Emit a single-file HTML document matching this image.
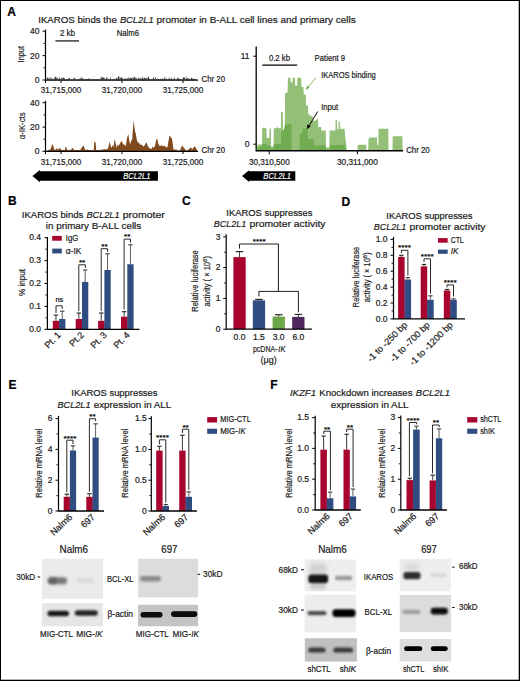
<!DOCTYPE html>
<html><head><meta charset="utf-8"><style>
html,body{margin:0;padding:0;background:#fff;}
body{width:520px;height:681px;overflow:hidden;}
svg{display:block;font-family:"Liberation Sans", sans-serif;}
text{stroke-width:0.2px;}
</style></head><body>
<svg width="520" height="681" viewBox="0 0 520 681" fill="#1a1a1a" stroke="none">
<rect x="0.00" y="0.00" width="520.00" height="1.00" fill="#000"/>
<rect x="0.00" y="0.00" width="1.00" height="681.00" fill="#000"/>
<rect x="519.00" y="0.00" width="1.00" height="681.00" fill="#000"/>
<rect x="0.00" y="680.00" width="520.00" height="1.00" fill="#000"/>
<rect x="518.00" y="0.00" width="1.00" height="681.00" fill="#000" opacity="0.3"/>
<rect x="0.00" y="679.00" width="520.00" height="1.00" fill="#000" opacity="0.3"/>
<text x="7.20" y="15.60" font-size="12" font-weight="bold" fill="#000" stroke="#000">A</text>
<text x="8.00" y="204.80" font-size="12" font-weight="bold" fill="#000" stroke="#000">B</text>
<text x="182.00" y="205.00" font-size="12" font-weight="bold" fill="#000" stroke="#000">C</text>
<text x="341.60" y="205.50" font-size="12" font-weight="bold" fill="#000" stroke="#000">D</text>
<text x="8.40" y="389.00" font-size="12" font-weight="bold" fill="#000" stroke="#000">E</text>
<text x="270.20" y="389.20" font-size="12" font-weight="bold" fill="#000" stroke="#000">F</text>
<text x="38.20" y="23.10" font-size="9.6" textLength="78.60" lengthAdjust="spacingAndGlyphs" stroke="#1a1a1a">IKAROS binds the</text>
<text x="119.90" y="23.10" font-size="9.6" textLength="33.70" lengthAdjust="spacingAndGlyphs" font-style="italic" stroke="#1a1a1a">BCL2L1</text>
<text x="156.60" y="23.10" font-size="9.6" textLength="199.10" lengthAdjust="spacingAndGlyphs" stroke="#1a1a1a">promoter in B-ALL cell lines and primary cells</text>
<line x1="45.50" y1="29.50" x2="45.50" y2="80.60" stroke="#000" stroke-width="1.2"/>
<line x1="42.50" y1="31.20" x2="45.50" y2="31.20" stroke="#000" stroke-width="1"/>
<line x1="42.50" y1="55.60" x2="45.50" y2="55.60" stroke="#000" stroke-width="1"/>
<line x1="42.50" y1="80.00" x2="45.50" y2="80.00" stroke="#000" stroke-width="1"/>
<line x1="43.50" y1="43.40" x2="45.50" y2="43.40" stroke="#000" stroke-width="0.9"/>
<line x1="43.50" y1="67.80" x2="45.50" y2="67.80" stroke="#000" stroke-width="0.9"/>
<line x1="45.50" y1="80.20" x2="198.00" y2="80.20" stroke="#000" stroke-width="1.3"/>
<line x1="61.00" y1="80.20" x2="61.00" y2="83.00" stroke="#000" stroke-width="1"/>
<line x1="122.00" y1="80.20" x2="122.00" y2="83.00" stroke="#000" stroke-width="1"/>
<line x1="183.00" y1="80.20" x2="183.00" y2="83.00" stroke="#000" stroke-width="1"/>
<text x="39.40" y="34.30" font-size="8.5" text-anchor="end" stroke="#1a1a1a">40</text>
<text x="39.40" y="58.70" font-size="8.5" text-anchor="end" stroke="#1a1a1a">20</text>
<text x="39.40" y="83.10" font-size="8.5" text-anchor="end" stroke="#1a1a1a">0</text>
<g transform="translate(24.40,54.20) rotate(-90)" stroke="#1a1a1a">
<text x="-8.20" y="0.00" font-size="9.3" textLength="16.40" lengthAdjust="spacingAndGlyphs">Input</text>
</g>
<text x="61.00" y="93.20" font-size="8.5" text-anchor="middle" textLength="40.30" lengthAdjust="spacingAndGlyphs" stroke="#1a1a1a">31,715,000</text>
<text x="122.00" y="93.20" font-size="8.5" text-anchor="middle" textLength="40.30" lengthAdjust="spacingAndGlyphs" stroke="#1a1a1a">31,720,000</text>
<text x="183.00" y="93.20" font-size="8.5" text-anchor="middle" textLength="40.30" lengthAdjust="spacingAndGlyphs" stroke="#1a1a1a">31,725,000</text>
<text x="201.50" y="82.00" font-size="8.5" textLength="23.50" lengthAdjust="spacingAndGlyphs" stroke="#1a1a1a">Chr 20</text>
<line x1="55.40" y1="40.90" x2="79.00" y2="40.90" stroke="#4a4a4a" stroke-width="1.6"/>
<text x="59.90" y="35.90" font-size="8.8" textLength="15.00" lengthAdjust="spacingAndGlyphs" stroke="#1a1a1a">2 kb</text>
<text x="116.70" y="36.20" font-size="8.7" textLength="22.30" lengthAdjust="spacingAndGlyphs" stroke="#1a1a1a">Nalm6</text>
<path d="M46.5,80.4 L46.50,79.41 L47.05,77.21 L47.60,77.28 L48.15,79.67 L48.70,77.50 L49.25,78.02 L49.80,79.14 L50.35,79.18 L50.90,76.37 L51.45,78.29 L52.00,79.42 L52.55,79.54 L53.10,79.12 L53.65,78.45 L54.20,79.51 L54.75,77.08 L55.30,76.53 L55.85,77.11 L56.40,79.23 L56.95,76.05 L57.50,79.59 L58.05,77.33 L58.60,79.66 L59.15,79.01 L59.70,76.79 L60.25,79.17 L60.80,79.29 L61.35,78.85 L61.90,76.78 L62.45,79.12 L63.00,77.60 L63.55,77.40 L64.10,78.45 L64.65,77.96 L65.20,79.35 L65.75,79.63 L66.30,79.21 L66.85,78.96 L67.40,79.45 L67.95,79.38 L68.50,78.14 L69.05,77.34 L69.60,78.59 L70.15,79.32 L70.70,79.19 L71.25,79.08 L71.80,79.14 L72.35,79.65 L72.90,79.00 L73.45,78.98 L74.00,76.95 L74.55,78.06 L75.10,79.55 L75.65,78.21 L76.20,79.61 L76.75,79.68 L77.30,79.15 L77.85,79.47 L78.40,79.37 L78.95,78.94 L79.50,79.28 L80.05,77.71 L80.60,79.46 L81.15,76.13 L81.70,79.22 L82.25,77.23 L82.80,78.82 L83.35,79.07 L83.90,79.37 L84.45,79.01 L85.00,79.00 L85.55,79.50 L86.10,78.81 L86.65,78.97 L87.20,79.03 L87.75,79.23 L88.30,77.87 L88.85,79.47 L89.40,78.84 L89.95,78.86 L90.50,78.84 L91.05,79.50 L91.60,79.52 L92.15,79.14 L92.70,78.94 L93.25,79.11 L93.80,79.62 L94.35,78.88 L94.90,79.02 L95.45,79.54 L96.00,79.40 L96.55,78.83 L97.10,79.34 L97.65,79.05 L98.20,79.59 L98.75,78.89 L99.30,79.57 L99.85,78.82 L100.40,79.38 L100.95,76.08 L101.50,79.12 L102.05,76.33 L102.60,77.95 L103.15,77.08 L103.70,78.26 L104.25,77.41 L104.80,79.17 L105.35,79.32 L105.90,79.25 L106.45,77.46 L107.00,76.52 L107.55,79.54 L108.10,79.05 L108.65,79.41 L109.20,79.20 L109.75,79.60 L110.30,76.59 L110.85,79.24 L111.40,79.02 L111.95,79.30 L112.50,79.25 L113.05,79.08 L113.60,79.22 L114.15,78.85 L114.70,78.91 L115.25,79.47 L115.80,78.85 L116.35,77.45 L116.90,78.41 L117.45,79.10 L118.00,76.74 L118.55,76.30 L119.10,76.12 L119.65,79.34 L120.20,78.81 L120.75,77.26 L121.30,77.77 L121.85,77.16 L122.40,77.74 L122.95,79.14 L123.50,79.64 L124.05,78.99 L124.60,78.50 L125.15,78.26 L125.70,79.32 L126.25,78.21 L126.80,78.87 L127.35,78.45 L127.90,78.41 L128.45,78.86 L129.00,76.37 L129.55,79.64 L130.10,77.16 L130.65,78.26 L131.20,78.32 L131.75,78.08 L132.30,76.63 L132.85,79.44 L133.40,78.55 L133.95,76.69 L134.50,77.37 L135.05,76.47 L135.60,79.31 L136.15,77.28 L136.70,79.08 L137.25,79.39 L137.80,79.06 L138.35,78.46 L138.90,76.67 L139.45,78.38 L140.00,78.94 L140.55,77.97 L141.10,79.44 L141.65,77.92 L142.20,78.83 L142.75,76.09 L143.30,78.60 L143.85,79.36 L144.40,77.29 L144.95,78.37 L145.50,78.54 L146.05,77.08 L146.60,79.22 L147.15,79.11 L147.70,77.75 L148.25,76.72 L148.80,76.43 L149.35,78.90 L149.90,79.04 L150.45,79.57 L151.00,79.25 L151.55,78.98 L152.10,79.17 L152.65,79.09 L153.20,78.25 L153.75,76.43 L154.30,79.20 L154.85,79.14 L155.40,76.53 L155.95,79.03 L156.50,79.22 L157.05,79.64 L157.60,77.91 L158.15,79.04 L158.70,79.03 L159.25,79.26 L159.80,79.27 L160.35,79.01 L160.90,78.22 L161.45,79.47 L162.00,79.43 L162.55,77.90 L163.10,79.10 L163.65,79.09 L164.20,79.24 L164.75,76.28 L165.30,79.52 L165.85,77.41 L166.40,78.96 L166.95,79.30 L167.50,79.51 L168.05,79.51 L168.60,79.57 L169.15,76.47 L169.70,79.24 L170.25,79.07 L170.80,78.89 L171.35,77.32 L171.90,79.29 L172.45,79.57 L173.00,79.42 L173.55,79.70 L174.10,76.19 L174.65,79.06 L175.20,79.44 L175.75,79.35 L176.30,79.17 L176.85,79.31 L177.40,76.43 L177.95,79.44 L178.50,77.27 L179.05,79.53 L179.60,78.84 L180.15,78.97 L180.70,78.88 L181.25,79.21 L181.80,79.66 L182.35,79.29 L182.90,78.47 L183.45,77.37 L184.00,76.68 L184.55,76.89 L185.10,79.43 L185.65,78.18 L186.20,79.51 L186.75,76.24 L187.30,78.80 L187.85,78.36 L188.40,77.98 L188.95,79.47 L189.50,78.90 L190.05,79.33 L190.60,79.23 L191.15,77.88 L191.70,77.29 L192.25,79.13 L192.80,77.95 L193.35,79.34 L193.90,78.84 L194.45,78.52 L195.00,79.06 L195.55,79.27 L196.10,79.70 L196.65,78.87 L197,80.4 Z" fill="#3a3a3a" stroke="none" stroke-width="1"/>
<line x1="45.50" y1="100.80" x2="45.50" y2="151.60" stroke="#000" stroke-width="1.2"/>
<line x1="42.50" y1="102.70" x2="45.50" y2="102.70" stroke="#000" stroke-width="1"/>
<line x1="42.50" y1="127.10" x2="45.50" y2="127.10" stroke="#000" stroke-width="1"/>
<line x1="42.50" y1="151.30" x2="45.50" y2="151.30" stroke="#000" stroke-width="1"/>
<line x1="43.50" y1="114.90" x2="45.50" y2="114.90" stroke="#000" stroke-width="0.9"/>
<line x1="43.50" y1="139.20" x2="45.50" y2="139.20" stroke="#000" stroke-width="0.9"/>
<text x="39.40" y="105.80" font-size="8.5" text-anchor="end" stroke="#1a1a1a">40</text>
<text x="39.40" y="130.20" font-size="8.5" text-anchor="end" stroke="#1a1a1a">20</text>
<text x="39.40" y="154.40" font-size="8.5" text-anchor="end" stroke="#1a1a1a">0</text>
<g transform="translate(24.80,125.90) rotate(-90)" stroke="#1a1a1a">
<text x="-13.40" y="0.00" font-size="9.3" textLength="26.80" lengthAdjust="spacingAndGlyphs">α-IK-cts</text>
</g>
<line x1="45.50" y1="151.30" x2="45.50" y2="154.20" stroke="#000" stroke-width="1"/>
<line x1="45.50" y1="80.20" x2="45.50" y2="83.00" stroke="#000" stroke-width="1"/>
<text x="61.00" y="165.30" font-size="8.5" text-anchor="middle" textLength="40.30" lengthAdjust="spacingAndGlyphs" stroke="#1a1a1a">31,715,000</text>
<text x="122.00" y="165.30" font-size="8.5" text-anchor="middle" textLength="40.30" lengthAdjust="spacingAndGlyphs" stroke="#1a1a1a">31,720,000</text>
<text x="183.00" y="165.30" font-size="8.5" text-anchor="middle" textLength="40.30" lengthAdjust="spacingAndGlyphs" stroke="#1a1a1a">31,725,000</text>
<text x="201.50" y="153.40" font-size="8.5" textLength="23.50" lengthAdjust="spacingAndGlyphs" stroke="#1a1a1a">Chr 20</text>
<path d="M46.5,151.3 L46.5,151.0 L49.0,150.0 L50.7,149.0 L52.2,144.3 L53.2,145.5 L54.3,150.0 L56.4,149.0 L57.1,147.2 L57.8,150.0 L58.7,149.0 L60.0,148.0 L61.6,150.0 L64.7,150.0 L65.9,146.3 L67.2,150.0 L70.8,150.0 L72.4,147.7 L74.3,150.0 L80.2,150.0 L82.5,146.5 L83.6,145.8 L85.3,150.0 L87.0,149.5 L88.0,150.0 L93.8,150.0 L94.3,141.7 L95.6,142.3 L96.2,150.0 L100.0,150.0 L104.0,149.3 L107.5,149.3 L108.4,147.0 L109.5,141.5 L110.5,145.0 L111.5,148.0 L112.6,145.0 L113.5,147.0 L114.6,139.0 L115.6,143.0 L116.5,148.0 L117.5,144.5 L118.5,146.0 L119.5,144.0 L121.0,142.0 L122.0,140.8 L123.0,145.0 L124.0,143.5 L125.0,146.3 L126.0,145.0 L127.0,138.0 L128.3,133.9 L129.2,140.0 L130.0,144.6 L131.2,141.0 L132.2,139.4 L133.0,128.0 L133.7,120.0 L134.4,127.0 L135.2,132.0 L136.0,134.5 L137.0,141.0 L138.2,142.5 L139.5,143.5 L140.5,145.0 L141.8,144.6 L143.0,146.5 L144.2,146.0 L145.3,144.0 L146.4,142.0 L147.6,145.5 L148.5,147.3 L150.0,148.5 L151.5,149.0 L152.5,146.5 L153.5,148.0 L155.0,146.0 L156.4,139.0 L157.4,139.5 L158.4,144.0 L160.0,146.5 L161.5,145.0 L163.0,146.5 L164.5,145.5 L166.0,147.5 L167.5,147.0 L168.5,141.0 L169.5,135.6 L170.5,137.0 L171.4,137.7 L172.3,140.3 L173.5,149.5 L176.0,149.5 L178.0,150.5 L180.0,150.5 L181.4,147.0 L182.2,145.5 L183.2,147.0 L184.5,148.5 L186.0,150.5 L188.0,150.0 L190.0,148.0 L191.0,147.2 L192.0,149.5 L193.6,147.5 L194.8,146.3 L196.1,148.5 L197.3,151.0 L197.3,151.3 Z" fill="#7f4a1e" stroke="none" stroke-width="1"/>
<line x1="45.50" y1="151.30" x2="198.00" y2="151.30" stroke="#000" stroke-width="1.3"/>
<line x1="61.00" y1="151.30" x2="61.00" y2="154.00" stroke="#000" stroke-width="1"/>
<line x1="122.00" y1="151.30" x2="122.00" y2="154.00" stroke="#000" stroke-width="1"/>
<line x1="183.00" y1="151.30" x2="183.00" y2="154.00" stroke="#000" stroke-width="1"/>
<path d="M32.4,176.1 L39.9,169.9 L39.9,171.3 L157.9,171.3 L157.9,180.8 L39.9,180.8 L39.9,182.2 Z" fill="#000" stroke="none" stroke-width="1"/>
<text x="123.30" y="179.00" font-size="8.5" textLength="27.00" lengthAdjust="spacingAndGlyphs" font-style="italic" fill="#fff" stroke="#fff">BCL2L1</text>
<path d="M242.0,176.0 L249.1,170.2 L249.1,171.2 L295.3,171.2 L295.3,180.7 L249.1,180.7 L249.1,181.9 Z" fill="#000" stroke="none" stroke-width="1"/>
<text x="263.30" y="178.90" font-size="8.5" textLength="27.60" lengthAdjust="spacingAndGlyphs" font-style="italic" fill="#fff" stroke="#fff">BCL2L1</text>
<path d="M257.3,150.5 L257.6,144.5 L262.0,144.5 L262.2,128.0 L264.0,127.5 L266.5,128.5 L266.7,137.9 L269.3,137.9 L269.5,128.8 L270.9,128.8 L271.0,146.5 L273.6,146.5 L273.8,128.5 L276.0,128.0 L277.5,127.3 L279.0,128.3 L280.9,128.3 L281.1,112.0 L282.8,112.0 L283.0,130.0 L284.8,130.0 L285.0,93.0 L287.5,93.0 L288.0,77.7 L290.4,77.7 L290.6,82.3 L292.5,82.3 L292.7,77.7 L295.0,77.7 L295.2,85.4 L297.2,85.4 L297.4,77.7 L301.2,77.7 L301.4,86.9 L303.5,86.9 L303.7,94.6 L305.8,94.6 L306.0,105.4 L308.0,105.4 L308.2,114.6 L310.4,114.6 L310.6,116.2 L312.7,116.2 L312.9,120.8 L315.8,120.8 L316.0,119.2 L318.0,119.2 L318.2,126.9 L321.2,126.9 L321.4,130.5 L325.8,130.5 L326.0,147.5 L329.4,147.5 L329.6,130.6 L335.4,130.6 L335.6,120.0 L336.9,120.0 L337.1,129.2 L338.5,129.2 L338.7,121.5 L340.0,121.5 L340.2,128.8 L344.6,128.8 L345.4,138.5 L346.2,145.0 L346.8,150.5 L357.5,150.5 L357.7,144.7 L366.2,144.7 L366.4,150.5 L368.3,150.5 L368.5,139.0 L369.5,137.6 L377.0,137.6 L377.2,145.0 L378.4,145.0 L378.6,128.8 L388.3,128.8 L388.5,150.5 L392.5,150.5 L392.7,136.2 L402.4,136.2 L402.6,150.5 Z" fill="#93c076" stroke="none" stroke-width="1" filter="url(#gblur)"/>
<path d="M257.3,150.5 L257.5,147.0 L262.0,147.0 L262.2,144.0 L266.5,144.0 L266.7,145.5 L270.4,145.5 L270.6,148.5 L273.6,148.5 L273.8,144.0 L281.0,144.0 L281.2,131.5 L283.5,130.6 L285.2,124.5 L291.5,124.2 L291.7,150.5 L299.6,150.5 L299.8,134.0 L302.0,133.5 L303.2,128.5 L307.5,128.0 L307.7,139.0 L313.5,139.0 L313.7,145.5 L326.0,145.5 L326.2,150.5 L329.6,150.5 L329.8,145.0 L345.0,145.0 L346.0,150.5 Z" fill="#6fac50" stroke="none" stroke-width="1" filter="url(#gblur)"/>
<line x1="256.20" y1="46.50" x2="256.20" y2="151.50" stroke="#000" stroke-width="1.3"/>
<line x1="253.30" y1="56.20" x2="256.20" y2="56.20" stroke="#000" stroke-width="1"/>
<line x1="253.30" y1="144.20" x2="256.20" y2="144.20" stroke="#000" stroke-width="1"/>
<line x1="256.20" y1="150.80" x2="403.10" y2="150.80" stroke="#000" stroke-width="1.4"/>
<line x1="269.20" y1="150.80" x2="269.20" y2="154.30" stroke="#000" stroke-width="1"/>
<line x1="357.40" y1="150.80" x2="357.40" y2="154.30" stroke="#000" stroke-width="1"/>
<text x="249.60" y="59.30" font-size="8.5" text-anchor="end" stroke="#1a1a1a">11</text>
<text x="249.60" y="147.30" font-size="8.5" text-anchor="end" stroke="#1a1a1a">0</text>
<text x="269.30" y="164.70" font-size="8.5" text-anchor="middle" textLength="40.80" lengthAdjust="spacingAndGlyphs" stroke="#1a1a1a">30,310,500</text>
<text x="357.40" y="164.70" font-size="8.5" text-anchor="middle" textLength="40.80" lengthAdjust="spacingAndGlyphs" stroke="#1a1a1a">30,311,000</text>
<text x="406.20" y="152.80" font-size="8.5" textLength="23.50" lengthAdjust="spacingAndGlyphs" stroke="#1a1a1a">Chr 20</text>
<line x1="262.30" y1="65.10" x2="297.20" y2="65.10" stroke="#000" stroke-width="1.2"/>
<text x="268.90" y="61.00" font-size="8.5" textLength="21.10" lengthAdjust="spacingAndGlyphs" stroke="#1a1a1a">0.2 kb</text>
<text x="314.60" y="61.00" font-size="8.5" textLength="30.50" lengthAdjust="spacingAndGlyphs" stroke="#1a1a1a">Patient 9</text>
<text x="321.20" y="78.40" font-size="8.5" textLength="54.60" lengthAdjust="spacingAndGlyphs" stroke="#1a1a1a">IKAROS binding</text>
<text x="321.20" y="109.80" font-size="8.5" textLength="17.00" lengthAdjust="spacingAndGlyphs" stroke="#1a1a1a">Input</text>
<line x1="315.80" y1="77.70" x2="307.80" y2="87.80" stroke="#6fac50" stroke-width="0.9"/>
<path d="M306.0,89.8 L306.9,85.6 L309.6,87.8 Z" fill="#6fac50" stroke="none" stroke-width="1"/>
<line x1="317.70" y1="111.50" x2="309.20" y2="125.60" stroke="#000" stroke-width="1.0"/>
<path d="M307.0,129.2 L307.4,124.2 L310.8,126.3 Z" fill="#000" stroke="none" stroke-width="1"/>
<text x="21.80" y="217.90" font-size="9.6" textLength="61.60" lengthAdjust="spacingAndGlyphs" stroke="#1a1a1a">IKAROS binds</text>
<text x="86.40" y="217.90" font-size="9.6" textLength="33.20" lengthAdjust="spacingAndGlyphs" font-style="italic" stroke="#1a1a1a">BCL2L1</text>
<text x="122.70" y="217.90" font-size="9.6" textLength="42.10" lengthAdjust="spacingAndGlyphs" stroke="#1a1a1a">promoter</text>
<text x="45.80" y="229.00" font-size="9.6" textLength="95.40" lengthAdjust="spacingAndGlyphs" stroke="#1a1a1a">in primary B-ALL cells</text>
<line x1="47.40" y1="237.00" x2="47.40" y2="329.80" stroke="#000" stroke-width="1.2"/>
<line x1="44.40" y1="329.30" x2="47.40" y2="329.30" stroke="#000" stroke-width="1"/>
<text x="41.00" y="332.00" font-size="8.5" text-anchor="end" stroke="#1a1a1a">0.0</text>
<line x1="44.40" y1="306.40" x2="47.40" y2="306.40" stroke="#000" stroke-width="1"/>
<text x="41.00" y="309.10" font-size="8.5" text-anchor="end" stroke="#1a1a1a">0.1</text>
<line x1="44.40" y1="283.50" x2="47.40" y2="283.50" stroke="#000" stroke-width="1"/>
<text x="41.00" y="286.20" font-size="8.5" text-anchor="end" stroke="#1a1a1a">0.2</text>
<line x1="44.40" y1="260.60" x2="47.40" y2="260.60" stroke="#000" stroke-width="1"/>
<text x="41.00" y="263.30" font-size="8.5" text-anchor="end" stroke="#1a1a1a">0.3</text>
<line x1="44.40" y1="237.70" x2="47.40" y2="237.70" stroke="#000" stroke-width="1"/>
<text x="41.00" y="240.40" font-size="8.5" text-anchor="end" stroke="#1a1a1a">0.4</text>
<line x1="45.40" y1="317.85" x2="47.40" y2="317.85" stroke="#000" stroke-width="0.9"/>
<line x1="45.40" y1="294.95" x2="47.40" y2="294.95" stroke="#000" stroke-width="0.9"/>
<line x1="45.40" y1="272.05" x2="47.40" y2="272.05" stroke="#000" stroke-width="0.9"/>
<line x1="45.40" y1="249.15" x2="47.40" y2="249.15" stroke="#000" stroke-width="0.9"/>
<line x1="55.95" y1="320.83" x2="55.95" y2="315.10" stroke="#3a3a3a" stroke-width="1.0"/>
<line x1="53.75" y1="315.10" x2="58.15" y2="315.10" stroke="#262626" stroke-width="1.15"/>
<line x1="62.25" y1="319.00" x2="62.25" y2="311.21" stroke="#5e5e5e" stroke-width="1.0"/>
<line x1="60.05" y1="311.21" x2="64.45" y2="311.21" stroke="#444" stroke-width="1.15"/>
<rect x="52.80" y="320.83" width="6.30" height="8.47" fill="#a8052e"/>
<rect x="59.00" y="320.83" width="0.60" height="8.47" fill="#a8052e"/>
<rect x="59.10" y="319.00" width="6.30" height="10.31" fill="#2f4d81"/>
<line x1="78.85" y1="319.00" x2="78.85" y2="313.04" stroke="#3a3a3a" stroke-width="1.0"/>
<line x1="76.65" y1="313.04" x2="81.05" y2="313.04" stroke="#262626" stroke-width="1.15"/>
<line x1="85.15" y1="281.90" x2="85.15" y2="269.99" stroke="#5e5e5e" stroke-width="1.0"/>
<line x1="82.95" y1="269.99" x2="87.35" y2="269.99" stroke="#444" stroke-width="1.15"/>
<rect x="75.70" y="319.00" width="6.30" height="10.31" fill="#a8052e"/>
<rect x="81.90" y="319.00" width="0.60" height="10.31" fill="#a8052e"/>
<rect x="82.00" y="281.90" width="6.30" height="47.40" fill="#2f4d81"/>
<line x1="101.25" y1="320.83" x2="101.25" y2="313.04" stroke="#3a3a3a" stroke-width="1.0"/>
<line x1="99.05" y1="313.04" x2="103.45" y2="313.04" stroke="#262626" stroke-width="1.15"/>
<line x1="107.55" y1="269.99" x2="107.55" y2="253.73" stroke="#5e5e5e" stroke-width="1.0"/>
<line x1="105.35" y1="253.73" x2="109.75" y2="253.73" stroke="#444" stroke-width="1.15"/>
<rect x="98.10" y="320.83" width="6.30" height="8.47" fill="#a8052e"/>
<rect x="104.30" y="320.83" width="0.60" height="8.47" fill="#a8052e"/>
<rect x="104.40" y="269.99" width="6.30" height="59.31" fill="#2f4d81"/>
<line x1="124.15" y1="316.70" x2="124.15" y2="311.67" stroke="#3a3a3a" stroke-width="1.0"/>
<line x1="121.95" y1="311.67" x2="126.35" y2="311.67" stroke="#262626" stroke-width="1.15"/>
<line x1="130.45" y1="264.26" x2="130.45" y2="244.80" stroke="#5e5e5e" stroke-width="1.0"/>
<line x1="128.25" y1="244.80" x2="132.65" y2="244.80" stroke="#444" stroke-width="1.15"/>
<rect x="121.00" y="316.70" width="6.30" height="12.60" fill="#a8052e"/>
<rect x="127.20" y="316.70" width="0.60" height="12.60" fill="#a8052e"/>
<rect x="127.30" y="264.26" width="6.30" height="65.04" fill="#2f4d81"/>
<line x1="47.40" y1="329.30" x2="139.40" y2="329.30" stroke="#000" stroke-width="1.3"/>
<path d="M56.00,313.00 L56.00,305.80 L62.20,305.80 L62.20,309.00" fill="none" stroke="#1e1e1e" stroke-width="0.95"/>
<text x="59.40" y="301.60" font-size="7.6" text-anchor="middle" textLength="7.60" lengthAdjust="spacingAndGlyphs" fill="#000" stroke="#000">ns</text>
<path d="M78.80,311.00 L78.80,264.80 L85.40,264.80 L85.40,268.00" fill="none" stroke="#1e1e1e" stroke-width="0.95"/>
<text x="82.10" y="265.00" font-size="8" text-anchor="middle" textLength="6.40" lengthAdjust="spacingAndGlyphs" fill="#000" stroke="#000">**</text>
<path d="M101.20,311.00 L101.20,248.70 L107.60,248.70 L107.60,251.80" fill="none" stroke="#1e1e1e" stroke-width="0.95"/>
<text x="104.40" y="248.90" font-size="8" text-anchor="middle" textLength="6.40" lengthAdjust="spacingAndGlyphs" fill="#000" stroke="#000">**</text>
<path d="M124.10,309.50 L124.10,239.10 L130.50,239.10 L130.50,242.70" fill="none" stroke="#1e1e1e" stroke-width="0.95"/>
<text x="127.30" y="239.30" font-size="8" text-anchor="middle" textLength="6.40" lengthAdjust="spacingAndGlyphs" fill="#000" stroke="#000">**</text>
<rect x="52.20" y="235.90" width="9.60" height="4.80" fill="#a8052e"/>
<text x="65.80" y="241.30" font-size="8.5" textLength="12.50" lengthAdjust="spacingAndGlyphs" stroke="#1a1a1a">IgG</text>
<rect x="52.20" y="248.60" width="9.60" height="4.80" fill="#2f4d81"/>
<text x="65.80" y="253.90" font-size="8.5" textLength="15.50" lengthAdjust="spacingAndGlyphs" stroke="#1a1a1a">α-IK</text>
<g transform="translate(24.50,282.40) rotate(-90)" stroke="#1a1a1a">
<text x="-13.50" y="0.00" font-size="9.3" textLength="27.00" lengthAdjust="spacingAndGlyphs">% input</text>
</g>
<text x="61.50" y="335.60" font-size="9.2" text-anchor="end" stroke="#1a1a1a" transform="rotate(-45 61.50 335.60)">Pt. 1</text>
<text x="84.50" y="335.60" font-size="9.2" text-anchor="end" stroke="#1a1a1a" transform="rotate(-45 84.50 335.60)">Pt.2</text>
<text x="107.50" y="335.60" font-size="9.2" text-anchor="end" stroke="#1a1a1a" transform="rotate(-45 107.50 335.60)">Pt. 3</text>
<text x="130.50" y="335.60" font-size="9.2" text-anchor="end" stroke="#1a1a1a" transform="rotate(-45 130.50 335.60)">Pt. 4</text>
<text x="269.40" y="216.25" font-size="9.6" text-anchor="middle" textLength="86.20" lengthAdjust="spacingAndGlyphs" stroke="#1a1a1a">IKAROS suppresses</text>
<text x="213.75" y="227.00" font-size="9.6" textLength="32.50" lengthAdjust="spacingAndGlyphs" font-style="italic" stroke="#1a1a1a">BCL2L1</text>
<text x="249.50" y="227.00" font-size="9.6" textLength="76.00" lengthAdjust="spacingAndGlyphs" stroke="#1a1a1a">promoter activity</text>
<line x1="226.20" y1="234.20" x2="226.20" y2="329.70" stroke="#000" stroke-width="1.2"/>
<line x1="223.20" y1="329.20" x2="226.20" y2="329.20" stroke="#000" stroke-width="1"/>
<text x="220.40" y="331.90" font-size="8.5" text-anchor="end" stroke="#1a1a1a">0</text>
<line x1="223.20" y1="298.40" x2="226.20" y2="298.40" stroke="#000" stroke-width="1"/>
<text x="220.40" y="301.10" font-size="8.5" text-anchor="end" stroke="#1a1a1a">1</text>
<line x1="223.20" y1="267.60" x2="226.20" y2="267.60" stroke="#000" stroke-width="1"/>
<text x="220.40" y="270.30" font-size="8.5" text-anchor="end" stroke="#1a1a1a">2</text>
<line x1="223.20" y1="236.80" x2="226.20" y2="236.80" stroke="#000" stroke-width="1"/>
<text x="220.40" y="239.50" font-size="8.5" text-anchor="end" stroke="#1a1a1a">3</text>
<line x1="224.20" y1="313.80" x2="226.20" y2="313.80" stroke="#000" stroke-width="0.9"/>
<line x1="224.20" y1="283.00" x2="226.20" y2="283.00" stroke="#000" stroke-width="0.9"/>
<line x1="224.20" y1="252.20" x2="226.20" y2="252.20" stroke="#000" stroke-width="0.9"/>
<line x1="239.55" y1="257.13" x2="239.55" y2="251.58" stroke="#3a3a3a" stroke-width="1.0"/>
<line x1="235.75" y1="251.58" x2="243.35" y2="251.58" stroke="#262626" stroke-width="1.15"/>
<rect x="233.40" y="257.13" width="12.30" height="72.07" fill="#a8052e"/>
<line x1="258.95" y1="300.31" x2="258.95" y2="299.42" stroke="#3a3a3a" stroke-width="1.0"/>
<line x1="255.15" y1="299.42" x2="262.75" y2="299.42" stroke="#262626" stroke-width="1.15"/>
<rect x="252.80" y="300.31" width="12.30" height="28.89" fill="#2f4d81"/>
<line x1="278.75" y1="316.57" x2="278.75" y2="314.72" stroke="#3a3a3a" stroke-width="1.0"/>
<line x1="274.95" y1="314.72" x2="282.55" y2="314.72" stroke="#262626" stroke-width="1.15"/>
<rect x="272.60" y="316.57" width="12.30" height="12.63" fill="#6aa84a"/>
<line x1="298.35" y1="316.88" x2="298.35" y2="314.42" stroke="#3a3a3a" stroke-width="1.0"/>
<line x1="294.55" y1="314.42" x2="302.15" y2="314.42" stroke="#262626" stroke-width="1.15"/>
<rect x="292.20" y="316.88" width="12.30" height="12.32" fill="#50265f"/>
<line x1="226.20" y1="329.20" x2="311.90" y2="329.20" stroke="#000" stroke-width="1.3"/>
<path d="M239.5,248.6 L239.5,244.0 L278.4,244.0 L278.4,291.4" fill="none" stroke="#1e1e1e" stroke-width="1.0"/>
<path d="M258.9,296.3 L258.9,291.4 L298.4,291.4 L298.4,312.3" fill="none" stroke="#1e1e1e" stroke-width="1.0"/>
<text x="259.20" y="244.10" font-size="8" text-anchor="middle" textLength="13.00" lengthAdjust="spacingAndGlyphs" fill="#000" stroke="#000">****</text>
<text x="239.50" y="339.60" font-size="8.5" text-anchor="middle" stroke="#1a1a1a">0.0</text>
<text x="258.90" y="339.60" font-size="8.5" text-anchor="middle" stroke="#1a1a1a">1.5</text>
<text x="278.70" y="339.60" font-size="8.5" text-anchor="middle" stroke="#1a1a1a">3.0</text>
<text x="298.40" y="339.60" font-size="8.5" text-anchor="middle" stroke="#1a1a1a">6.0</text>
<text x="252.90" y="352.40" font-size="9.5" textLength="24.60" lengthAdjust="spacingAndGlyphs" stroke="#1a1a1a">pcDNA-</text>
<text x="278.30" y="352.40" font-size="9.5" textLength="7.20" lengthAdjust="spacingAndGlyphs" font-style="italic" stroke="#1a1a1a">IK</text>
<text x="268.70" y="363.40" font-size="9.3" text-anchor="middle" textLength="16.30" lengthAdjust="spacingAndGlyphs" stroke="#1a1a1a">(μg)</text>
<g transform="translate(198.20,281.00) rotate(-90)" stroke="#1a1a1a">
<text x="-30.80" y="0.00" font-size="9.3" textLength="61.60" lengthAdjust="spacingAndGlyphs">Relative luciferase</text>
</g>
<g transform="translate(210.20,281.20) rotate(-90)" stroke="#1a1a1a">
<text x="-25.25" y="0.00" font-size="9.3" textLength="44.50" lengthAdjust="spacingAndGlyphs">activity ( × 10</text>
<text x="19.25" y="-3.60" font-size="6" textLength="3.20" lengthAdjust="spacingAndGlyphs">6</text>
<text x="22.45" y="0.00" font-size="9.3" textLength="2.80" lengthAdjust="spacingAndGlyphs">)</text>
</g>
<text x="429.40" y="218.75" font-size="9.6" text-anchor="middle" textLength="86.20" lengthAdjust="spacingAndGlyphs" stroke="#1a1a1a">IKAROS suppresses</text>
<text x="373.75" y="229.90" font-size="9.6" textLength="32.50" lengthAdjust="spacingAndGlyphs" font-style="italic" stroke="#1a1a1a">BCL2L1</text>
<text x="409.50" y="229.90" font-size="9.6" textLength="76.00" lengthAdjust="spacingAndGlyphs" stroke="#1a1a1a">promoter activity</text>
<line x1="393.50" y1="236.90" x2="393.50" y2="319.40" stroke="#000" stroke-width="1.2"/>
<line x1="390.50" y1="318.90" x2="393.50" y2="318.90" stroke="#000" stroke-width="1"/>
<text x="387.60" y="321.60" font-size="8.5" text-anchor="end" stroke="#1a1a1a">0.0</text>
<line x1="390.50" y1="303.00" x2="393.50" y2="303.00" stroke="#000" stroke-width="1"/>
<text x="387.60" y="305.70" font-size="8.5" text-anchor="end" stroke="#1a1a1a">0.2</text>
<line x1="390.50" y1="287.10" x2="393.50" y2="287.10" stroke="#000" stroke-width="1"/>
<text x="387.60" y="289.80" font-size="8.5" text-anchor="end" stroke="#1a1a1a">0.4</text>
<line x1="390.50" y1="271.20" x2="393.50" y2="271.20" stroke="#000" stroke-width="1"/>
<text x="387.60" y="273.90" font-size="8.5" text-anchor="end" stroke="#1a1a1a">0.6</text>
<line x1="390.50" y1="255.30" x2="393.50" y2="255.30" stroke="#000" stroke-width="1"/>
<text x="387.60" y="258.00" font-size="8.5" text-anchor="end" stroke="#1a1a1a">0.8</text>
<line x1="390.50" y1="239.40" x2="393.50" y2="239.40" stroke="#000" stroke-width="1"/>
<text x="387.60" y="242.10" font-size="8.5" text-anchor="end" stroke="#1a1a1a">1.0</text>
<line x1="391.50" y1="310.95" x2="393.50" y2="310.95" stroke="#000" stroke-width="0.9"/>
<line x1="391.50" y1="295.05" x2="393.50" y2="295.05" stroke="#000" stroke-width="0.9"/>
<line x1="391.50" y1="279.15" x2="393.50" y2="279.15" stroke="#000" stroke-width="0.9"/>
<line x1="391.50" y1="263.25" x2="393.50" y2="263.25" stroke="#000" stroke-width="0.9"/>
<line x1="391.50" y1="247.35" x2="393.50" y2="247.35" stroke="#000" stroke-width="0.9"/>
<line x1="401.35" y1="256.89" x2="401.35" y2="255.30" stroke="#3a3a3a" stroke-width="1.0"/>
<line x1="399.15" y1="255.30" x2="403.55" y2="255.30" stroke="#262626" stroke-width="1.15"/>
<line x1="407.85" y1="279.55" x2="407.85" y2="277.56" stroke="#5e5e5e" stroke-width="1.0"/>
<line x1="405.65" y1="277.56" x2="410.05" y2="277.56" stroke="#444" stroke-width="1.15"/>
<rect x="398.10" y="256.89" width="6.50" height="62.01" fill="#a8052e"/>
<rect x="404.50" y="279.55" width="0.60" height="39.35" fill="#a8052e"/>
<rect x="404.60" y="279.55" width="6.50" height="39.35" fill="#2f4d81"/>
<line x1="423.95" y1="266.43" x2="423.95" y2="264.44" stroke="#3a3a3a" stroke-width="1.0"/>
<line x1="421.75" y1="264.44" x2="426.15" y2="264.44" stroke="#262626" stroke-width="1.15"/>
<line x1="430.45" y1="299.82" x2="430.45" y2="295.84" stroke="#5e5e5e" stroke-width="1.0"/>
<line x1="428.25" y1="295.84" x2="432.65" y2="295.84" stroke="#444" stroke-width="1.15"/>
<rect x="420.70" y="266.43" width="6.50" height="52.47" fill="#a8052e"/>
<rect x="427.10" y="299.82" width="0.60" height="19.08" fill="#a8052e"/>
<rect x="427.20" y="299.82" width="6.50" height="19.08" fill="#2f4d81"/>
<line x1="447.05" y1="290.52" x2="447.05" y2="289.48" stroke="#3a3a3a" stroke-width="1.0"/>
<line x1="444.85" y1="289.48" x2="449.25" y2="289.48" stroke="#262626" stroke-width="1.15"/>
<line x1="453.55" y1="299.82" x2="453.55" y2="298.87" stroke="#5e5e5e" stroke-width="1.0"/>
<line x1="451.35" y1="298.87" x2="455.75" y2="298.87" stroke="#444" stroke-width="1.15"/>
<rect x="443.80" y="290.52" width="6.50" height="28.38" fill="#a8052e"/>
<rect x="450.20" y="299.82" width="0.60" height="19.08" fill="#a8052e"/>
<rect x="450.30" y="299.82" width="6.50" height="19.08" fill="#2f4d81"/>
<line x1="393.50" y1="318.90" x2="465.00" y2="318.90" stroke="#000" stroke-width="1.3"/>
<path d="M401.40,253.20 L401.40,250.30 L407.90,250.30 L407.90,275.60" fill="none" stroke="#1e1e1e" stroke-width="0.95"/>
<text x="404.60" y="250.40" font-size="8" text-anchor="middle" textLength="13.00" lengthAdjust="spacingAndGlyphs" fill="#000" stroke="#000">****</text>
<path d="M424.00,262.00 L424.00,258.80 L430.50,258.80 L430.50,293.60" fill="none" stroke="#1e1e1e" stroke-width="0.95"/>
<text x="427.20" y="258.90" font-size="8" text-anchor="middle" textLength="13.00" lengthAdjust="spacingAndGlyphs" fill="#000" stroke="#000">****</text>
<path d="M447.00,287.40 L447.00,284.90 L453.50,284.90 L453.50,296.60" fill="none" stroke="#1e1e1e" stroke-width="0.95"/>
<text x="450.20" y="285.00" font-size="8" text-anchor="middle" textLength="13.00" lengthAdjust="spacingAndGlyphs" fill="#000" stroke="#000">****</text>
<rect x="438.00" y="238.10" width="9.70" height="4.60" fill="#a8052e"/>
<text x="450.70" y="242.80" font-size="8.5" textLength="13.00" lengthAdjust="spacingAndGlyphs" stroke="#1a1a1a">CTL</text>
<rect x="438.00" y="249.60" width="9.70" height="4.20" fill="#2f4d81"/>
<text x="450.70" y="254.30" font-size="8.5" textLength="7.50" lengthAdjust="spacingAndGlyphs" font-style="italic" stroke="#1a1a1a">IK</text>
<g transform="translate(358.70,277.00) rotate(-90)" stroke="#1a1a1a">
<text x="-30.20" y="0.00" font-size="9.3" textLength="60.40" lengthAdjust="spacingAndGlyphs">Relative luciferase</text>
</g>
<g transform="translate(370.40,277.20) rotate(-90)" stroke="#1a1a1a">
<text x="-25.00" y="0.00" font-size="9.3" textLength="44.00" lengthAdjust="spacingAndGlyphs">activity ( × 10</text>
<text x="19.00" y="-3.60" font-size="6" textLength="3.20" lengthAdjust="spacingAndGlyphs">6</text>
<text x="22.20" y="0.00" font-size="9.3" textLength="2.80" lengthAdjust="spacingAndGlyphs">)</text>
</g>
<text x="407.80" y="325.60" font-size="9.2" text-anchor="end" stroke="#1a1a1a" transform="rotate(-45 407.80 325.60)">-1 to -250 bp</text>
<text x="430.50" y="325.60" font-size="9.2" text-anchor="end" stroke="#1a1a1a" transform="rotate(-45 430.50 325.60)">-1 to -700 bp</text>
<text x="453.50" y="325.60" font-size="9.2" text-anchor="end" stroke="#1a1a1a" transform="rotate(-45 453.50 325.60)">-1 to -1200 bp</text>
<text x="114.40" y="396.25" font-size="9.6" text-anchor="middle" textLength="86.20" lengthAdjust="spacingAndGlyphs" stroke="#1a1a1a">IKAROS suppresses</text>
<text x="57.50" y="408.00" font-size="9.6" textLength="33.00" lengthAdjust="spacingAndGlyphs" font-style="italic" stroke="#1a1a1a">BCL2L1</text>
<text x="93.75" y="408.00" font-size="9.6" textLength="77.50" lengthAdjust="spacingAndGlyphs" stroke="#1a1a1a">expression in ALL</text>
<line x1="58.50" y1="415.80" x2="58.50" y2="511.50" stroke="#000" stroke-width="1.2"/>
<line x1="55.50" y1="511.00" x2="58.50" y2="511.00" stroke="#000" stroke-width="1"/>
<text x="52.40" y="513.70" font-size="8.5" text-anchor="end" stroke="#1a1a1a">0</text>
<line x1="55.50" y1="480.20" x2="58.50" y2="480.20" stroke="#000" stroke-width="1"/>
<text x="52.40" y="482.90" font-size="8.5" text-anchor="end" stroke="#1a1a1a">2</text>
<line x1="55.50" y1="449.40" x2="58.50" y2="449.40" stroke="#000" stroke-width="1"/>
<text x="52.40" y="452.10" font-size="8.5" text-anchor="end" stroke="#1a1a1a">4</text>
<line x1="55.50" y1="418.60" x2="58.50" y2="418.60" stroke="#000" stroke-width="1"/>
<text x="52.40" y="421.30" font-size="8.5" text-anchor="end" stroke="#1a1a1a">6</text>
<line x1="56.50" y1="495.60" x2="58.50" y2="495.60" stroke="#000" stroke-width="0.9"/>
<line x1="56.50" y1="464.80" x2="58.50" y2="464.80" stroke="#000" stroke-width="0.9"/>
<line x1="56.50" y1="434.00" x2="58.50" y2="434.00" stroke="#000" stroke-width="0.9"/>
<line x1="66.80" y1="496.83" x2="66.80" y2="494.21" stroke="#3a3a3a" stroke-width="1.0"/>
<line x1="64.60" y1="494.21" x2="69.00" y2="494.21" stroke="#262626" stroke-width="1.15"/>
<line x1="73.00" y1="450.48" x2="73.00" y2="445.86" stroke="#5e5e5e" stroke-width="1.0"/>
<line x1="70.80" y1="445.86" x2="75.20" y2="445.86" stroke="#444" stroke-width="1.15"/>
<rect x="63.70" y="496.83" width="6.20" height="14.17" fill="#a8052e"/>
<rect x="69.80" y="496.83" width="0.60" height="14.17" fill="#a8052e"/>
<rect x="69.90" y="450.48" width="6.20" height="60.52" fill="#2f4d81"/>
<line x1="89.40" y1="496.83" x2="89.40" y2="493.75" stroke="#3a3a3a" stroke-width="1.0"/>
<line x1="87.20" y1="493.75" x2="91.60" y2="493.75" stroke="#262626" stroke-width="1.15"/>
<line x1="95.60" y1="437.54" x2="95.60" y2="423.84" stroke="#5e5e5e" stroke-width="1.0"/>
<line x1="93.40" y1="423.84" x2="97.80" y2="423.84" stroke="#444" stroke-width="1.15"/>
<rect x="86.30" y="496.83" width="6.20" height="14.17" fill="#a8052e"/>
<rect x="92.40" y="496.83" width="0.60" height="14.17" fill="#a8052e"/>
<rect x="92.50" y="437.54" width="6.20" height="73.46" fill="#2f4d81"/>
<line x1="58.50" y1="511.00" x2="104.00" y2="511.00" stroke="#000" stroke-width="1.3"/>
<g transform="translate(41.70,463.20) rotate(-90)" stroke="#1a1a1a">
<text x="-34.50" y="0.00" font-size="9.3" textLength="69.00" lengthAdjust="spacingAndGlyphs">Relative mRNA level</text>
</g>
<path d="M66.80,492.20 L66.80,440.20 L73.00,440.20 L73.00,444.00" fill="none" stroke="#1e1e1e" stroke-width="0.95"/>
<text x="69.90" y="440.60" font-size="8" text-anchor="middle" textLength="13.00" lengthAdjust="spacingAndGlyphs" fill="#000" stroke="#000">****</text>
<path d="M89.40,491.70 L89.40,418.70 L95.60,418.70 L95.60,421.10" fill="none" stroke="#1e1e1e" stroke-width="0.95"/>
<text x="92.50" y="419.20" font-size="8" text-anchor="middle" textLength="6.40" lengthAdjust="spacingAndGlyphs" fill="#000" stroke="#000">**</text>
<line x1="151.30" y1="416.20" x2="151.30" y2="511.50" stroke="#000" stroke-width="1.2"/>
<line x1="148.30" y1="511.00" x2="151.30" y2="511.00" stroke="#000" stroke-width="1"/>
<text x="146.80" y="513.70" font-size="8.5" text-anchor="end" stroke="#1a1a1a">0</text>
<line x1="148.30" y1="480.20" x2="151.30" y2="480.20" stroke="#000" stroke-width="1"/>
<text x="146.80" y="482.90" font-size="8.5" text-anchor="end" stroke="#1a1a1a">0.5</text>
<line x1="148.30" y1="449.40" x2="151.30" y2="449.40" stroke="#000" stroke-width="1"/>
<text x="146.80" y="452.10" font-size="8.5" text-anchor="end" stroke="#1a1a1a">1.0</text>
<line x1="148.30" y1="418.60" x2="151.30" y2="418.60" stroke="#000" stroke-width="1"/>
<text x="146.80" y="421.30" font-size="8.5" text-anchor="end" stroke="#1a1a1a">1.5</text>
<line x1="149.30" y1="495.60" x2="151.30" y2="495.60" stroke="#000" stroke-width="0.9"/>
<line x1="149.30" y1="464.80" x2="151.30" y2="464.80" stroke="#000" stroke-width="0.9"/>
<line x1="149.30" y1="434.00" x2="151.30" y2="434.00" stroke="#000" stroke-width="0.9"/>
<line x1="159.40" y1="450.63" x2="159.40" y2="446.32" stroke="#3a3a3a" stroke-width="1.0"/>
<line x1="157.20" y1="446.32" x2="161.60" y2="446.32" stroke="#262626" stroke-width="1.15"/>
<line x1="165.80" y1="506.07" x2="165.80" y2="504.53" stroke="#5e5e5e" stroke-width="1.0"/>
<line x1="163.60" y1="504.53" x2="168.00" y2="504.53" stroke="#444" stroke-width="1.15"/>
<rect x="156.20" y="450.63" width="6.40" height="60.37" fill="#a8052e"/>
<rect x="162.50" y="506.07" width="0.60" height="4.93" fill="#a8052e"/>
<rect x="162.60" y="506.07" width="6.40" height="4.93" fill="#2f4d81"/>
<line x1="182.40" y1="450.63" x2="182.40" y2="435.23" stroke="#3a3a3a" stroke-width="1.0"/>
<line x1="180.20" y1="435.23" x2="184.60" y2="435.23" stroke="#262626" stroke-width="1.15"/>
<line x1="188.80" y1="496.83" x2="188.80" y2="491.90" stroke="#5e5e5e" stroke-width="1.0"/>
<line x1="186.60" y1="491.90" x2="191.00" y2="491.90" stroke="#444" stroke-width="1.15"/>
<rect x="179.20" y="450.63" width="6.40" height="60.37" fill="#a8052e"/>
<rect x="185.50" y="496.83" width="0.60" height="14.17" fill="#a8052e"/>
<rect x="185.60" y="496.83" width="6.40" height="14.17" fill="#2f4d81"/>
<line x1="151.30" y1="511.00" x2="196.90" y2="511.00" stroke="#000" stroke-width="1.3"/>
<g transform="translate(128.10,463.20) rotate(-90)" stroke="#1a1a1a">
<text x="-34.50" y="0.00" font-size="9.3" textLength="69.00" lengthAdjust="spacingAndGlyphs">Relative mRNA level</text>
</g>
<path d="M159.40,444.20 L159.40,439.80 L165.80,439.80 L165.80,502.60" fill="none" stroke="#1e1e1e" stroke-width="0.95"/>
<text x="162.60" y="440.10" font-size="8" text-anchor="middle" textLength="13.00" lengthAdjust="spacingAndGlyphs" fill="#000" stroke="#000">****</text>
<path d="M182.40,433.00 L182.40,429.20 L188.80,429.20 L188.80,489.70" fill="none" stroke="#1e1e1e" stroke-width="0.95"/>
<text x="185.60" y="429.60" font-size="8" text-anchor="middle" textLength="6.40" lengthAdjust="spacingAndGlyphs" fill="#000" stroke="#000">**</text>
<text x="73.10" y="517.90" font-size="9.2" text-anchor="end" stroke="#1a1a1a" transform="rotate(-43 73.10 517.90)">Nalm6</text>
<text x="95.60" y="517.90" font-size="9.2" text-anchor="end" stroke="#1a1a1a" transform="rotate(-43 95.60 517.90)">697</text>
<text x="165.90" y="517.90" font-size="9.2" text-anchor="end" stroke="#1a1a1a" transform="rotate(-43 165.90 517.90)">Nalm6</text>
<text x="188.90" y="517.90" font-size="9.2" text-anchor="end" stroke="#1a1a1a" transform="rotate(-43 188.90 517.90)">697</text>
<rect x="207.20" y="417.10" width="9.90" height="5.40" fill="#a8052e"/>
<text x="220.20" y="422.30" font-size="8.5" textLength="30.60" lengthAdjust="spacingAndGlyphs" stroke="#1a1a1a">MIG-CTL</text>
<rect x="207.20" y="428.70" width="9.90" height="5.10" fill="#2f4d81"/>
<text x="220.20" y="433.60" font-size="8.5" textLength="17.80" lengthAdjust="spacingAndGlyphs" stroke="#1a1a1a">MIG-</text>
<text x="238.30" y="433.60" font-size="8.5" textLength="7.20" lengthAdjust="spacingAndGlyphs" font-style="italic" stroke="#1a1a1a">IK</text>
<text x="289.90" y="396.40" font-size="9.6" textLength="26.20" lengthAdjust="spacingAndGlyphs" font-style="italic" stroke="#1a1a1a">IKZF1</text>
<text x="319.30" y="396.40" font-size="9.6" textLength="93.20" lengthAdjust="spacingAndGlyphs" stroke="#1a1a1a">Knockdown increases</text>
<text x="415.80" y="396.40" font-size="9.6" textLength="34.30" lengthAdjust="spacingAndGlyphs" font-style="italic" stroke="#1a1a1a">BCL2L1</text>
<text x="330.80" y="407.90" font-size="9.6" textLength="77.80" lengthAdjust="spacingAndGlyphs" stroke="#1a1a1a">expression in ALL</text>
<line x1="315.20" y1="415.80" x2="315.20" y2="510.50" stroke="#000" stroke-width="1.2"/>
<line x1="312.20" y1="510.00" x2="315.20" y2="510.00" stroke="#000" stroke-width="1"/>
<text x="309.10" y="512.70" font-size="8.5" text-anchor="end" stroke="#1a1a1a">0.0</text>
<line x1="312.20" y1="479.20" x2="315.20" y2="479.20" stroke="#000" stroke-width="1"/>
<text x="309.10" y="481.90" font-size="8.5" text-anchor="end" stroke="#1a1a1a">0.5</text>
<line x1="312.20" y1="448.40" x2="315.20" y2="448.40" stroke="#000" stroke-width="1"/>
<text x="309.10" y="451.10" font-size="8.5" text-anchor="end" stroke="#1a1a1a">1.0</text>
<line x1="312.20" y1="417.60" x2="315.20" y2="417.60" stroke="#000" stroke-width="1"/>
<text x="309.10" y="420.30" font-size="8.5" text-anchor="end" stroke="#1a1a1a">1.5</text>
<line x1="313.20" y1="494.60" x2="315.20" y2="494.60" stroke="#000" stroke-width="0.9"/>
<line x1="313.20" y1="463.80" x2="315.20" y2="463.80" stroke="#000" stroke-width="0.9"/>
<line x1="313.20" y1="433.00" x2="315.20" y2="433.00" stroke="#000" stroke-width="0.9"/>
<line x1="323.65" y1="449.63" x2="323.65" y2="436.08" stroke="#3a3a3a" stroke-width="1.0"/>
<line x1="321.45" y1="436.08" x2="325.85" y2="436.08" stroke="#262626" stroke-width="1.15"/>
<line x1="330.15" y1="498.30" x2="330.15" y2="492.14" stroke="#5e5e5e" stroke-width="1.0"/>
<line x1="327.95" y1="492.14" x2="332.35" y2="492.14" stroke="#444" stroke-width="1.15"/>
<rect x="320.40" y="449.63" width="6.50" height="60.37" fill="#a8052e"/>
<rect x="326.80" y="498.30" width="0.60" height="11.70" fill="#a8052e"/>
<rect x="326.90" y="498.30" width="6.50" height="11.70" fill="#2f4d81"/>
<line x1="346.65" y1="449.63" x2="346.65" y2="434.23" stroke="#3a3a3a" stroke-width="1.0"/>
<line x1="344.45" y1="434.23" x2="348.85" y2="434.23" stroke="#262626" stroke-width="1.15"/>
<line x1="352.95" y1="496.45" x2="352.95" y2="489.06" stroke="#5e5e5e" stroke-width="1.0"/>
<line x1="350.75" y1="489.06" x2="355.15" y2="489.06" stroke="#444" stroke-width="1.15"/>
<rect x="343.50" y="449.63" width="6.30" height="60.37" fill="#a8052e"/>
<rect x="349.70" y="496.45" width="0.60" height="13.55" fill="#a8052e"/>
<rect x="349.80" y="496.45" width="6.30" height="13.55" fill="#2f4d81"/>
<line x1="315.20" y1="510.00" x2="360.80" y2="510.00" stroke="#000" stroke-width="1.3"/>
<g transform="translate(292.00,463.20) rotate(-90)" stroke="#1a1a1a">
<text x="-34.50" y="0.00" font-size="9.3" textLength="69.00" lengthAdjust="spacingAndGlyphs">Relative mRNA level</text>
</g>
<path d="M323.80,434.00 L323.80,431.20 L330.40,431.20 L330.40,490.30" fill="none" stroke="#1e1e1e" stroke-width="0.95"/>
<text x="327.10" y="431.60" font-size="8" text-anchor="middle" textLength="6.40" lengthAdjust="spacingAndGlyphs" fill="#000" stroke="#000">**</text>
<path d="M346.70,432.00 L346.70,429.20 L353.10,429.20 L353.10,487.20" fill="none" stroke="#1e1e1e" stroke-width="0.95"/>
<text x="349.90" y="429.60" font-size="8" text-anchor="middle" textLength="6.40" lengthAdjust="spacingAndGlyphs" fill="#000" stroke="#000">**</text>
<line x1="400.80" y1="415.40" x2="400.80" y2="510.50" stroke="#000" stroke-width="1.2"/>
<line x1="397.80" y1="510.00" x2="400.80" y2="510.00" stroke="#000" stroke-width="1"/>
<text x="395.30" y="512.70" font-size="8.5" text-anchor="end" stroke="#1a1a1a">0</text>
<line x1="397.80" y1="479.20" x2="400.80" y2="479.20" stroke="#000" stroke-width="1"/>
<text x="395.30" y="481.90" font-size="8.5" text-anchor="end" stroke="#1a1a1a">1</text>
<line x1="397.80" y1="448.40" x2="400.80" y2="448.40" stroke="#000" stroke-width="1"/>
<text x="395.30" y="451.10" font-size="8.5" text-anchor="end" stroke="#1a1a1a">2</text>
<line x1="397.80" y1="417.60" x2="400.80" y2="417.60" stroke="#000" stroke-width="1"/>
<text x="395.30" y="420.30" font-size="8.5" text-anchor="end" stroke="#1a1a1a">3</text>
<line x1="398.80" y1="494.60" x2="400.80" y2="494.60" stroke="#000" stroke-width="0.9"/>
<line x1="398.80" y1="463.80" x2="400.80" y2="463.80" stroke="#000" stroke-width="0.9"/>
<line x1="398.80" y1="433.00" x2="400.80" y2="433.00" stroke="#000" stroke-width="0.9"/>
<line x1="409.80" y1="480.12" x2="409.80" y2="478.28" stroke="#3a3a3a" stroke-width="1.0"/>
<line x1="407.60" y1="478.28" x2="412.00" y2="478.28" stroke="#262626" stroke-width="1.15"/>
<line x1="416.40" y1="429.61" x2="416.40" y2="426.22" stroke="#5e5e5e" stroke-width="1.0"/>
<line x1="414.20" y1="426.22" x2="418.60" y2="426.22" stroke="#444" stroke-width="1.15"/>
<rect x="406.50" y="480.12" width="6.60" height="29.88" fill="#a8052e"/>
<rect x="413.00" y="480.12" width="0.60" height="29.88" fill="#a8052e"/>
<rect x="413.10" y="429.61" width="6.60" height="80.39" fill="#2f4d81"/>
<line x1="432.75" y1="480.43" x2="432.75" y2="475.20" stroke="#3a3a3a" stroke-width="1.0"/>
<line x1="430.55" y1="475.20" x2="434.95" y2="475.20" stroke="#262626" stroke-width="1.15"/>
<line x1="439.05" y1="438.24" x2="439.05" y2="429.00" stroke="#5e5e5e" stroke-width="1.0"/>
<line x1="436.85" y1="429.00" x2="441.25" y2="429.00" stroke="#444" stroke-width="1.15"/>
<rect x="429.60" y="480.43" width="6.30" height="29.57" fill="#a8052e"/>
<rect x="435.80" y="480.43" width="0.60" height="29.57" fill="#a8052e"/>
<rect x="435.90" y="438.24" width="6.30" height="71.76" fill="#2f4d81"/>
<line x1="400.80" y1="510.00" x2="446.90" y2="510.00" stroke="#000" stroke-width="1.3"/>
<g transform="translate(384.70,463.20) rotate(-90)" stroke="#1a1a1a">
<text x="-34.50" y="0.00" font-size="9.3" textLength="69.00" lengthAdjust="spacingAndGlyphs">Relative mRNA level</text>
</g>
<path d="M409.40,476.30 L409.40,422.50 L416.70,422.50 L416.70,424.30" fill="none" stroke="#1e1e1e" stroke-width="0.95"/>
<text x="413.00" y="422.90" font-size="8" text-anchor="middle" textLength="13.00" lengthAdjust="spacingAndGlyphs" fill="#000" stroke="#000">****</text>
<path d="M432.50,473.40 L432.50,425.00 L439.20,425.00 L439.20,427.20" fill="none" stroke="#1e1e1e" stroke-width="0.95"/>
<text x="435.90" y="425.40" font-size="8" text-anchor="middle" textLength="6.40" lengthAdjust="spacingAndGlyphs" fill="#000" stroke="#000">**</text>
<text x="330.60" y="516.90" font-size="9.2" text-anchor="end" stroke="#1a1a1a" transform="rotate(-43 330.60 516.90)">Nalm6</text>
<text x="353.60" y="516.90" font-size="9.2" text-anchor="end" stroke="#1a1a1a" transform="rotate(-43 353.60 516.90)">697</text>
<text x="417.10" y="516.90" font-size="9.2" text-anchor="end" stroke="#1a1a1a" transform="rotate(-43 417.10 516.90)">Nalm6</text>
<text x="440.10" y="516.90" font-size="9.2" text-anchor="end" stroke="#1a1a1a" transform="rotate(-43 440.10 516.90)">697</text>
<rect x="467.20" y="417.10" width="10.10" height="5.40" fill="#a8052e"/>
<text x="480.20" y="422.30" font-size="8.5" textLength="21.10" lengthAdjust="spacingAndGlyphs" stroke="#1a1a1a">shCTL</text>
<rect x="467.20" y="428.70" width="10.10" height="5.10" fill="#2f4d81"/>
<text x="480.20" y="433.60" font-size="8.5" textLength="14.60" lengthAdjust="spacingAndGlyphs" stroke="#1a1a1a">shIK</text>
<text x="73.80" y="552.90" font-size="10.2" text-anchor="middle" textLength="28.60" lengthAdjust="spacingAndGlyphs" stroke="#1a1a1a">Nalm6</text>
<text x="169.40" y="552.90" font-size="10.2" text-anchor="middle" textLength="16.20" lengthAdjust="spacingAndGlyphs" stroke="#1a1a1a">697</text>
<rect x="42.00" y="558.75" width="61.10" height="40.00" fill="#ebebeb"/>
<rect x="48.00" y="577.30" width="19.00" height="7.00" rx="3.00" fill="#777777" filter="url(#bf150)"/>
<rect x="48.50" y="578.05" width="8.50" height="5.50" rx="2.75" fill="#5e5e5e" filter="url(#bf140)"/>
<rect x="76.50" y="578.10" width="17.00" height="5.00" rx="2.50" fill="#d9d9d9" filter="url(#bf150)"/>
<rect x="42.00" y="603.10" width="61.10" height="23.15" fill="#e6e6e6"/>
<rect x="47.50" y="610.75" width="21.50" height="5.50" rx="2.75" fill="#181818" filter="url(#bf80)"/>
<rect x="74.80" y="610.15" width="23.00" height="5.50" rx="2.75" fill="#262626" filter="url(#bf80)"/>
<rect x="138.10" y="558.75" width="60.00" height="38.75" fill="#dcdcdc"/>
<rect x="140.00" y="576.00" width="21.00" height="5.50" rx="2.75" fill="#8c8c8c" filter="url(#bf120)"/>
<rect x="138.10" y="604.75" width="60.00" height="21.50" fill="#c4c4c4"/>
<rect x="140.50" y="611.90" width="22.00" height="5.60" rx="2.80" fill="#080808" filter="url(#bf70)"/>
<rect x="171.00" y="611.30" width="26.30" height="5.60" rx="2.80" fill="#080808" filter="url(#bf70)"/>
<text x="16.20" y="579.60" font-size="8.5" textLength="18.80" lengthAdjust="spacingAndGlyphs" stroke="#1a1a1a">30kD</text>
<line x1="37.50" y1="577.00" x2="40.20" y2="577.00" stroke="#000" stroke-width="1"/>
<text x="107.00" y="581.90" font-size="8.5" textLength="26.50" lengthAdjust="spacingAndGlyphs" stroke="#1a1a1a">BCL-XL</text>
<text x="107.50" y="617.30" font-size="8.5" textLength="25.50" lengthAdjust="spacingAndGlyphs" stroke="#1a1a1a">β-actin</text>
<line x1="197.60" y1="574.30" x2="200.20" y2="574.30" stroke="#000" stroke-width="1"/>
<text x="203.00" y="577.20" font-size="8.5" textLength="19.50" lengthAdjust="spacingAndGlyphs" stroke="#1a1a1a">30kD</text>
<text x="40.00" y="636.50" font-size="8.5" textLength="33.00" lengthAdjust="spacingAndGlyphs" stroke="#1a1a1a">MIG-CTL</text>
<text x="76.20" y="636.50" font-size="8.5" textLength="18.60" lengthAdjust="spacingAndGlyphs" stroke="#1a1a1a">MIG-</text>
<text x="95.00" y="636.50" font-size="8.5" textLength="7.50" lengthAdjust="spacingAndGlyphs" font-style="italic" stroke="#1a1a1a">IK</text>
<text x="135.80" y="636.50" font-size="8.5" textLength="33.00" lengthAdjust="spacingAndGlyphs" stroke="#1a1a1a">MIG-CTL</text>
<text x="172.50" y="636.50" font-size="8.5" textLength="18.60" lengthAdjust="spacingAndGlyphs" stroke="#1a1a1a">MIG-</text>
<text x="191.30" y="636.50" font-size="8.5" textLength="7.50" lengthAdjust="spacingAndGlyphs" font-style="italic" stroke="#1a1a1a">IK</text>
<text x="332.50" y="552.50" font-size="10.2" text-anchor="middle" textLength="28.60" lengthAdjust="spacingAndGlyphs" stroke="#1a1a1a">Nalm6</text>
<text x="429.00" y="552.50" font-size="10.2" text-anchor="middle" textLength="15.70" lengthAdjust="spacingAndGlyphs" stroke="#1a1a1a">697</text>
<rect x="304.50" y="559.50" width="51.70" height="31.80" fill="#eeeeee"/>
<rect x="309.70" y="563.00" width="17.00" height="11.00" rx="3.00" fill="#d2d2d2" filter="url(#bf200)"/>
<rect x="310.00" y="583.50" width="16.00" height="6.00" rx="3.00" fill="#cccccc" filter="url(#bf150)"/>
<rect x="308.30" y="574.60" width="19.80" height="8.60" rx="3.00" fill="#191919" filter="url(#bf120)"/>
<rect x="334.90" y="575.70" width="17.40" height="4.60" rx="2.30" fill="#9a9a9a" filter="url(#bf90)"/>
<rect x="304.50" y="594.60" width="51.70" height="37.90" fill="#ededed"/>
<rect x="307.50" y="611.05" width="19.00" height="4.30" rx="2.15" fill="#4e4e4e" filter="url(#bf80)"/>
<rect x="332.50" y="609.30" width="23.00" height="7.60" rx="3.00" fill="#050505" filter="url(#bf90)"/>
<rect x="304.80" y="638.20" width="52.10" height="23.40" fill="#c0c0c0"/>
<rect x="308.20" y="647.40" width="17.40" height="5.20" rx="2.60" fill="#3e3e3e" filter="url(#bf90)"/>
<rect x="333.30" y="647.40" width="19.80" height="5.20" rx="2.60" fill="#3e3e3e" filter="url(#bf90)"/>
<rect x="399.70" y="559.00" width="51.40" height="32.20" fill="#eeeeee"/>
<rect x="404.00" y="563.00" width="16.00" height="8.00" rx="3.00" fill="#dadada" filter="url(#bf200)"/>
<rect x="403.30" y="572.00" width="17.30" height="7.20" rx="3.00" fill="#2e2e2e" filter="url(#bf120)"/>
<rect x="430.00" y="573.20" width="16.50" height="4.00" rx="2.00" fill="#d8d8d8" filter="url(#bf100)"/>
<rect x="399.70" y="595.00" width="51.40" height="36.90" fill="#dcdcdc"/>
<rect x="402.50" y="609.75" width="18.10" height="4.30" rx="2.15" fill="#a0a0a0" filter="url(#bf100)"/>
<rect x="430.70" y="607.80" width="17.10" height="6.80" rx="3.00" fill="#070707" filter="url(#bf90)"/>
<rect x="399.70" y="639.00" width="51.40" height="22.50" fill="#dedede"/>
<rect x="404.10" y="646.30" width="18.20" height="4.80" rx="2.40" fill="#000000" filter="url(#bf60)"/>
<rect x="430.70" y="646.30" width="17.10" height="4.80" rx="2.40" fill="#000000" filter="url(#bf60)"/>
<text x="278.60" y="572.50" font-size="8.5" textLength="19.30" lengthAdjust="spacingAndGlyphs" stroke="#1a1a1a">68kD</text>
<line x1="301.10" y1="569.70" x2="303.90" y2="569.70" stroke="#000" stroke-width="1"/>
<text x="278.60" y="612.80" font-size="8.5" textLength="19.30" lengthAdjust="spacingAndGlyphs" stroke="#1a1a1a">30kD</text>
<line x1="301.10" y1="610.00" x2="303.90" y2="610.00" stroke="#000" stroke-width="1"/>
<text x="363.80" y="580.30" font-size="8.5" textLength="29.40" lengthAdjust="spacingAndGlyphs" stroke="#1a1a1a">IKAROS</text>
<text x="364.60" y="615.40" font-size="8.5" textLength="27.60" lengthAdjust="spacingAndGlyphs" stroke="#1a1a1a">BCL-XL</text>
<text x="366.00" y="653.60" font-size="8.5" textLength="25.10" lengthAdjust="spacingAndGlyphs" stroke="#1a1a1a">β-actin</text>
<line x1="452.20" y1="567.20" x2="454.50" y2="567.20" stroke="#000" stroke-width="1"/>
<text x="459.00" y="569.40" font-size="8.5" textLength="18.50" lengthAdjust="spacingAndGlyphs" stroke="#1a1a1a">68kD</text>
<line x1="452.20" y1="607.50" x2="454.50" y2="607.50" stroke="#000" stroke-width="1"/>
<text x="459.00" y="609.90" font-size="8.5" textLength="18.50" lengthAdjust="spacingAndGlyphs" stroke="#1a1a1a">30kD</text>
<text x="307.50" y="672.40" font-size="8.5" textLength="23.20" lengthAdjust="spacingAndGlyphs" stroke="#1a1a1a">shCTL</text>
<text x="339.70" y="672.40" font-size="8.5" textLength="8.60" lengthAdjust="spacingAndGlyphs" stroke="#1a1a1a">sh</text>
<text x="348.30" y="672.40" font-size="8.5" textLength="7.90" lengthAdjust="spacingAndGlyphs" font-style="italic" stroke="#1a1a1a">IK</text>
<text x="402.90" y="672.40" font-size="8.5" textLength="21.40" lengthAdjust="spacingAndGlyphs" stroke="#1a1a1a">shCTL</text>
<text x="432.90" y="672.40" font-size="8.5" textLength="15.40" lengthAdjust="spacingAndGlyphs" stroke="#1a1a1a">shIK</text>
<defs><filter id="gblur" x="-50%" y="-150%" width="200%" height="400%"><feGaussianBlur stdDeviation="0.45"/></filter><filter id="bf150" x="-50%" y="-150%" width="200%" height="400%"><feGaussianBlur stdDeviation="1.5"/></filter><filter id="bf140" x="-50%" y="-150%" width="200%" height="400%"><feGaussianBlur stdDeviation="1.4"/></filter><filter id="bf80" x="-50%" y="-150%" width="200%" height="400%"><feGaussianBlur stdDeviation="0.8"/></filter><filter id="bf120" x="-50%" y="-150%" width="200%" height="400%"><feGaussianBlur stdDeviation="1.2"/></filter><filter id="bf70" x="-50%" y="-150%" width="200%" height="400%"><feGaussianBlur stdDeviation="0.7"/></filter><filter id="bf200" x="-50%" y="-150%" width="200%" height="400%"><feGaussianBlur stdDeviation="2.0"/></filter><filter id="bf90" x="-50%" y="-150%" width="200%" height="400%"><feGaussianBlur stdDeviation="0.9"/></filter><filter id="bf100" x="-50%" y="-150%" width="200%" height="400%"><feGaussianBlur stdDeviation="1.0"/></filter><filter id="bf60" x="-50%" y="-150%" width="200%" height="400%"><feGaussianBlur stdDeviation="0.6"/></filter></defs>
</svg>
</body></html>
